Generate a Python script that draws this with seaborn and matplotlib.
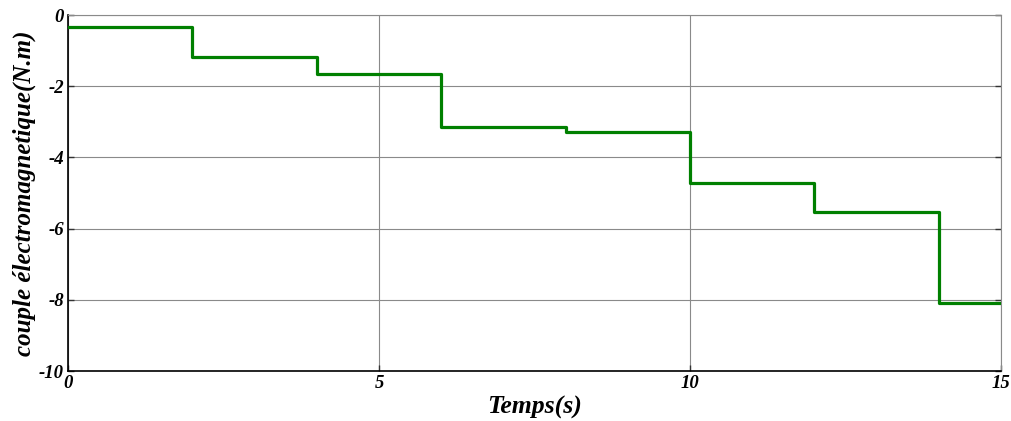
import matplotlib
matplotlib.use("Agg")
import matplotlib.pyplot as plt
import seaborn as sns
import pandas as pd

# step data
times = [0, 2, 4, 6, 8, 10, 12, 14, 15]
torque = [-0.33, -1.18, -1.66, -3.15, -3.29, -4.72, -5.54, -8.09, -8.09]
xticks = [0, 5, 10, 15]
yticks = [0, -2, -4, -6, -8, -10]

sns.set_theme(style="white")
plt.rcParams['font.family'] = ['Liberation Serif', 'DejaVu Serif']
plt.rcParams['text.color'] = 'black'
plt.rcParams['axes.labelcolor'] = 'black'
plt.rcParams['xtick.color'] = 'black'
plt.rcParams['ytick.color'] = 'black'

df = pd.DataFrame({"t": times, "c": torque})

fig = plt.figure(figsize=(10.11, 4.21), dpi=100)
ax = fig.add_axes([68/1011, 1-371/421, (1001-68)/1011, (371-15)/421])
sns.lineplot(data=df, x="t", y="c", ax=ax, color="#008000", linewidth=2.3,
             drawstyle="steps-post", zorder=3)

ax.set_xlim(0, 15)
ax.set_ylim(-10, 0)
ax.set_xticks(xticks)
ax.set_yticks(yticks)
tf = dict(fontsize=13.5, fontweight="bold", style="italic", color="black")
ax.set_xticklabels([str(v) for v in xticks], **tf)
ax.set_yticklabels([str(v) for v in yticks], **tf)
ax.grid(True, color="#8a8a8a", linewidth=0.8, linestyle="-")
ax.tick_params(direction="in", length=4, width=1, color="#333333", pad=3,
               left=True, bottom=True, right=True, top=False)
for s in ["left", "bottom"]:
    ax.spines[s].set_color("black")
    ax.spines[s].set_linewidth(1.2)
for s in ["top", "right"]:
    ax.spines[s].set_color("#8a8a8a")
    ax.spines[s].set_linewidth(0.8)

ax.set_xlabel("Temps(s)", fontsize=18.5, fontweight="bold", style="italic", labelpad=3, color="black")
ax.set_ylabel("couple électromagnetique(N.m)", fontsize=18, fontweight="bold", style="italic", labelpad=2, color="black")

fig.savefig("out.png", dpi=100)
